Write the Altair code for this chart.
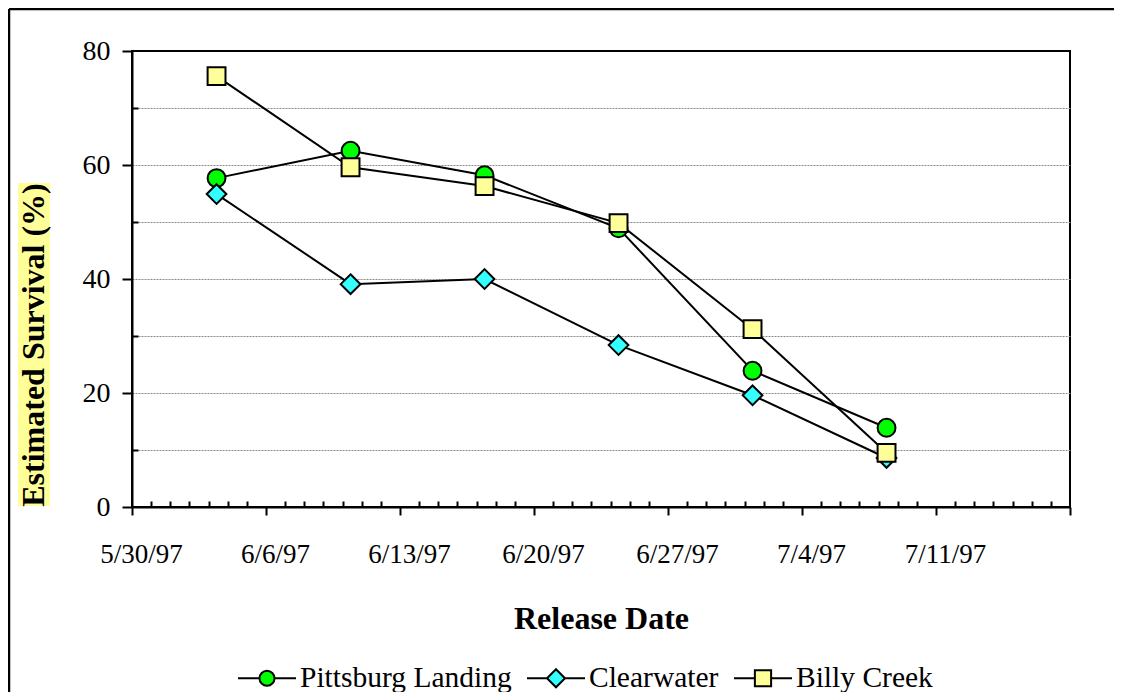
import altair as alt
import pandas as pd
import datetime as dt

# ---- data ----
series_names = ["Pittsburg Landing", "Clearwater", "Billy Creek"]
release_dates = ["1997-06-03T10:00:00Z", "1997-06-10T10:00:00Z", "1997-06-17T10:00:00Z",
                 "1997-06-24T10:00:00Z", "1997-07-01T10:00:00Z", "1997-07-08T10:00:00Z"]
pittsburg = [57.7, 62.5, 58.2, 48.9, 23.9, 13.9]
clearwater = [54.9, 39.1, 40.0, 28.4, 19.6, 8.6]
billy_creek = [75.6, 59.6, 56.3, 49.8, 31.2, 9.5]

fill_colors = ["#00FF00", "#33FFFF", "#FFFF99"]
outline_colors = ["black", "black", "black"]
plot_shapes = ["circle", "M0,-1.1L1.1,0L0,1.1L-1.1,0Z", "square"]
legend_shapes = [
    "M-1,0H-0.26M0.26,0H1M0.26,0A0.26,0.26,0,1,1,-0.26,0A0.26,0.26,0,1,1,0.26,0Z",
    "M-1,0H-0.31M0.31,0H1M0,-0.31L0.31,0L0,0.31L-0.31,0Z",
    "M-1,0H-0.28M0.28,0H1M-0.28,-0.28H0.28V0.28H-0.28Z",
]

y_major = [0, 20, 40, 60, 80]
y_minor = [10, 30, 50, 70]
y_grid = [10, 20, 30, 40, 50, 60, 70]

# weekly ticks 5/30/97 .. 7/18/97, daily minor ticks
axis_start = dt.date(1997, 5, 30)


def dtime(d):
    return alt.DateTime(year=d.year, month=d.month, date=d.day, utc=True)


x_major = [dtime(axis_start + dt.timedelta(days=7 * i)) for i in range(8)]
x_minor = [dtime(axis_start + dt.timedelta(days=d)) for d in range(50) if d % 7 != 0]
x_domain = [dtime(axis_start), dtime(axis_start + dt.timedelta(days=49))]

rows = []
for name, vals in zip(series_names, [pittsburg, clearwater, billy_creek]):
    for d, v in zip(release_dates, vals):
        rows.append({"series": name, "date": d, "value": v})
df = pd.DataFrame(rows)

FONT = "Liberation Serif"
xscale = alt.Scale(type="utc", domain=x_domain)
yscale = alt.Scale(domain=[0, 80], nice=False, zero=True)

x_main = alt.X("date:T", scale=xscale, axis=alt.Axis(
    values=x_major, orient="bottom",
    labelExpr="datum.index > 0.99 ? '' : utcFormat(datum.value, '%-m/%-d/%y')",
    tickSize=8, tickWidth=2, tickColor="black", domainColor="black", domainWidth=2,
    labelFont=FONT, labelFontSize=27, labelColor="black", labelPadding=26, labelOffset=9,
    labelFlush=False, labelOverlap=False, grid=False,
    title="Release Date", titleFont=FONT, titleFontSize=32, titleFontWeight="bold",
    titleColor="black", titleBaseline="alphabetic", titleY=121))
y_main = alt.Y("value:Q", scale=yscale, axis=alt.Axis(
    values=y_major, orient="left", tickSize=10, tickWidth=2, tickColor="black",
    domainColor="black", domainWidth=2, labelFont=FONT, labelFontSize=28,
    labelColor="black", labelPadding=12, grid=False, title=None))

lines = alt.Chart(df).mark_line(color="black", strokeWidth=2).encode(
    x=x_main, y=y_main, detail="series:N", order="date:T")

points = alt.Chart(df).mark_point(filled=True, size=320, stroke="black",
                                  strokeWidth=2, opacity=1).encode(
    x=alt.X("date:T", scale=xscale, axis=alt.Axis(
        values=x_minor, orient="top", offset=-456, tickSize=6, tickWidth=2,
        tickColor="black", labels=False, domain=False, grid=False, title=None)),
    y=alt.Y("value:Q", scale=yscale, axis=alt.Axis(
        values=y_grid, orient="left", grid=True, gridColor="#8a8a8a", gridWidth=1,
        gridDash=[2, 1], ticks=False, labels=False, domain=False, title=None)),
    shape=alt.Shape("series:N", scale=alt.Scale(domain=series_names, range=plot_shapes), legend=None),
    fill=alt.Fill("series:N", scale=alt.Scale(domain=series_names, range=fill_colors), legend=None),
)

leg_kw = dict(orient="none", legendX=105, legendY=597, direction="horizontal", title=None,
              labelFont=FONT, labelFontSize=29.5, labelColor="black", symbolSize=3364,
              symbolStrokeWidth=2, symbolOpacity=1,
              labelOffset=3, columnPadding=11, padding=0, labelLimit=400)
legend_layer = alt.Chart(df).transform_filter("false").mark_point(
    filled=True, strokeWidth=2, opacity=1).encode(
    x=alt.X("date:T", scale=xscale, axis=None),
    y=alt.Y("value:Q", scale=yscale, axis=alt.Axis(
        values=y_minor, orient="right", offset=-938, tickSize=6, tickWidth=2,
        tickColor="black", labels=False, domain=False, grid=False, title=None)),
    shape=alt.Shape("series:N", scale=alt.Scale(domain=series_names, range=legend_shapes),
                    legend=alt.Legend(**leg_kw)),
    fill=alt.Fill("series:N", scale=alt.Scale(domain=series_names, range=fill_colors),
                  legend=alt.Legend(**leg_kw)),
    stroke=alt.Stroke("series:N", scale=alt.Scale(domain=series_names, range=outline_colors),
                      legend=alt.Legend(**leg_kw)),
)

one = pd.DataFrame({"k": [0]})
title_bg = alt.Chart(one).mark_rect(color="#FFFF99").encode(
    x=alt.value(-114), x2=alt.value(-82), y=alt.value(132), y2=alt.value(455))
title_txt = alt.Chart(one).mark_text(angle=270, font=FONT, fontSize=32, fontWeight="bold",
                                     align="center", baseline="middle", color="black").encode(
    x=alt.value(-98), y=alt.value(294), text=alt.value("Estimated Survival (%)"))
frame_left = alt.Chart(one).mark_rule(color="black", strokeWidth=2.5).encode(
    x=alt.value(-123), y=alt.value(-42), y2=alt.value(700))
frame_top = alt.Chart(one).mark_rule(color="black", strokeWidth=2.5).encode(
    x=alt.value(-123), x2=alt.value(1100), y=alt.value(-42))

chart = alt.layer(
    title_bg, title_txt, frame_left, frame_top, lines, points, legend_layer
).resolve_scale(
    shape="independent", fill="independent", stroke="independent"
).resolve_axis(
    x="independent", y="independent"
).properties(
    width=938, height=456,
    autosize=alt.AutoSizeParams(type="none"),
    padding={"left": 124, "top": 43, "right": 44, "bottom": 185},
    background="white",
).configure_view(stroke="black", strokeWidth=2)

chart.save("out.html", embed_options={"renderer": "svg", "actions": False})
